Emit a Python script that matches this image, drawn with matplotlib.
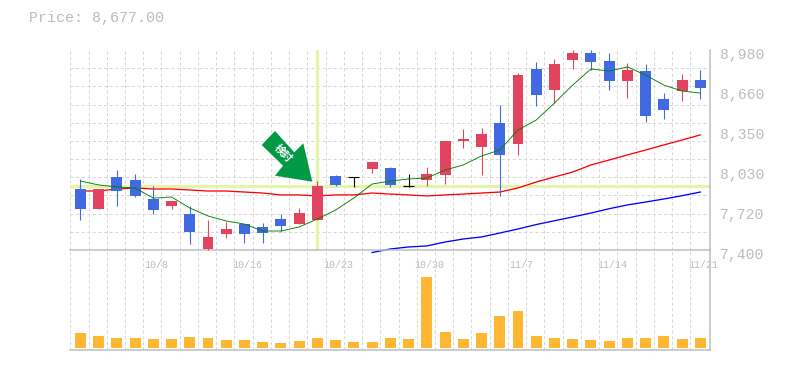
import numpy as np
import matplotlib
matplotlib.use("Agg")
import matplotlib.pyplot as plt
from matplotlib.patches import Polygon
from matplotlib.transforms import ScaledTranslation

opens = [7882,7724,7977,7953,7803,7748,7684,7408,7526,7605,7582,7645,7605,7637,7985,7977,8040,8048,7902,7953,7993,8261,8214,8403,8237,8830,8664,8901,8956,8893,8735,8814,8593,8656,8743]
highs = [7961,7882,8032,8000,7906,7787,7748,7637,7621,7605,7613,7684,7732,7945,7993,7977,8095,8056,8000,8056,8261,8356,8364,8546,8798,8885,8909,8980,8980,8956,8877,8869,8640,8790,8822]
lows = [7637,7724,7748,7819,7684,7724,7447,7400,7495,7455,7455,7542,7605,7637,7906,7898,8008,7898,7898,7906,7921,8206,7993,7827,8151,8538,8561,8830,8822,8664,8601,8411,8435,8577,8593]
closes = [7724,7882,7866,7827,7716,7787,7542,7503,7566,7526,7534,7590,7692,7906,7914,7977,8095,7914,7902,8000,8261,8277,8316,8151,8783,8625,8869,8956,8885,8735,8822,8459,8506,8743,8677]
ma_short = [7945,7914,7898,7890,7810,7819,7732,7669,7629,7605,7550,7550,7582,7645,7716,7811,7921,7945,7961,7969,8032,8072,8143,8190,8348,8427,8561,8703,8830,8814,8846,8782,8703,8656,8640]
ma_mid = [7866,7866,7882,7890,7882,7882,7874,7866,7866,7858,7850,7835,7835,7827,7835,7835,7850,7842,7835,7827,7835,7842,7850,7858,7890,7937,7977,8016,8072,8111,8151,8190,8230,8269,8309]
ma_long = [7380,7408,7424,7432,7463,7487,7503,7534,7566,7601,7631,7661,7692,7726,7756,7779,7803,7829,7858]
ma_long_start = 16
volumes = [150,120,100,100,90,90,110,100,80,80,60,50,70,100,80,60,60,100,90,710,160,90,150,320,370,120,100,90,80,70,100,100,120,90,100]
date_idx = [4,9,14,19,24,29,34]
date_labels = ["10/8","10/16","10/23","10/30","11/7","11/14","11/21"]
price_ticks = [8980,8664,8348,8032,7716,7400]
price_labels = ["8,980","8,660","8,350","8,030","7,720","7,400"]
title_text = "Price: 8,677.00"
mark_text = "検討"
mark_price = 7906
mark_idx = 13

W, H = 785, 370
UP, DOWN, DOJI = "#e2435f", "#4169e1", "#000000"
GRID, TXT, AX = "#d6d6d6", "#bcbcbc", "#bdbdbd"
HL = "#e4f5a8"
px = 72 / 100

fig = plt.figure(figsize=(W/100, H/100), dpi=100)
L, R = 70.3, 710
ax = fig.add_axes([L/W, 1-250/H, (R-L)/W, 200/H])
av = fig.add_axes([L/W, 1-350/H, (R-L)/W, 100/H], sharex=ax)
x = np.arange(len(closes))
xlim = (-0.548, 34.53)

for a in (ax, av):
    a.set_xlim(*xlim)
    a.set_xticks(x - 0.55, minor=True)
    a.grid(True, which="minor", axis="x", color=GRID, lw=1*px, ls=(0, (3, 2.6)), zorder=0)
    a.set_axisbelow(True)
    a.patch.set_alpha(0)
    for s in ("left", "top"):
        a.spines[s].set_visible(False)
    for s in ("right", "bottom"):
        a.spines[s].set_color(AX)
        a.spines[s].set_linewidth(1.5*px)
    a.tick_params(which="both", length=0)

ax.set_ylim(7400, 8980)
ax.set_yticks(np.linspace(7400, 8980, 12), minor=True)
ax.grid(True, which="minor", axis="y", color=GRID, lw=1*px, ls=(0, (3, 2.6)), zorder=0)
ax.yaxis.tick_right()
ax.set_yticks(price_ticks)
ax.set_yticklabels(price_labels, family="Liberation Mono", fontsize=10.6, color=TXT)
ax.tick_params(axis="y", which="major", pad=7)
shift = ScaledTranslation(0, -3/100, fig.dpi_scale_trans)
for lab in ax.get_yticklabels():
    lab.set_transform(lab.get_transform() + shift)

ax.set_xticks(date_idx)
ax.set_xticklabels(date_labels, family="Liberation Mono", fontsize=7.2, color=TXT)
ax.tick_params(axis="x", which="major", pad=7)
shiftx = ScaledTranslation(3/100, 0, fig.dpi_scale_trans)
for lab in ax.get_xticklabels():
    lab.set_transform(lab.get_transform() + shiftx)
plt.setp(av.get_xticklabels(), visible=False)
av.set_yticks([])

# highlights
ax.axhline(mark_price, color=HL, lw=3*px, zorder=1.5)
ax.axvline(mark_idx, color=HL, lw=3.2*px, zorder=1.5, ymin=0, ymax=1)

# moving averages
ax.plot(x, ma_mid, color="#ff0000", lw=1.3*px, zorder=2.5, solid_joinstyle="round")
ax.plot(x[ma_long_start:], ma_long, color="#0000ff", lw=1.3*px, zorder=2.5, clip_on=False)

# candles
for i in x:
    o, h, l, c = opens[i], highs[i], lows[i], closes[i]
    col = DOJI if abs(o-c) < 6 else (UP if c > o else DOWN)
    ax.vlines(i, l, h, color=col, lw=1.1*px, zorder=3, clip_on=False)
    if col == DOJI:
        ax.hlines(o, i-0.3, i+0.3, color=col, lw=1.1*px, zorder=3)
    else:
        ax.bar(i, abs(c-o), bottom=min(o, c), width=0.6, color=col, zorder=3, lw=0, clip_on=False)

ax.plot(x, ma_short, color="#008000", lw=0.9*px, zorder=4)

# volume
av.set_ylim(-20, 980)
av.bar(x, volumes, width=0.6, color="#ffb733", lw=0, zorder=3)

# annotation arrow
pts = [(275,131),(261.7,145),(283,165.7),(275,175.7),(312.3,181.7),(303.3,143.3),(294.3,152.3)]
fig.add_artist(Polygon([(a/W, 1-b/H) for a, b in pts], closed=True, transform=fig.transFigure,
                       facecolor="#009944", edgecolor="none", zorder=6))
fig.text(283.5/W, 1-153.5/H, mark_text, family=["Noto Sans CJK JP", "DejaVu Sans"], fontweight="bold",
         fontsize=7.5, color="white", rotation=-45, ha="center", va="center", zorder=7)

fig.text(29/W, 1-18/H, title_text, family="Liberation Mono", fontsize=10.8, color=TXT, ha="left", va="center")

fig.savefig("out.png", dpi=100)
